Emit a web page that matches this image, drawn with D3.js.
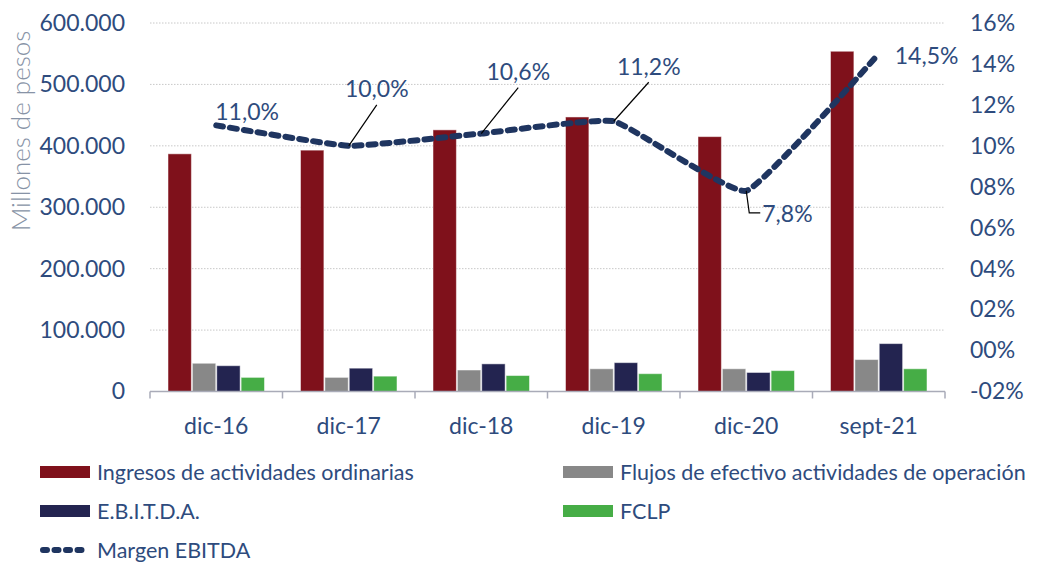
<!DOCTYPE html>
<html>
<head>
<meta charset="utf-8">
<script src="https://cdn.jsdelivr.net/npm/d3@7"></script>
<style>
  body { margin: 0; background: #fff; }
  svg text { font-family: Lato, "Open Sans", sans-serif; }
</style>
</head>
<body>
<div id="chart"></div>
<script>
// data
const categories = ["dic-16", "dic-17", "dic-18", "dic-19", "dic-20", "sept-21"];
const seriesNames = ["Ingresos de actividades ordinarias", "Flujos de efectivo actividades de operación", "E.B.I.T.D.A.", "FCLP"];
const ingresos = [387000, 393000, 426000, 447000, 415000, 554000];
const flujos   = [46000, 23000, 35000, 37000, 37000, 52000];
const ebitda   = [42000, 38000, 45000, 47000, 31000, 78000];
const fclp     = [23000, 25000, 26000, 29000, 34000, 37000];
const margen   = [11.0, 10.0, 10.6, 11.2, 7.8, 14.5];
const lineName = "Margen EBITDA";
const leftTicks = [0, 100000, 200000, 300000, 400000, 500000, 600000];
const rightTicks = [-2, 0, 2, 4, 6, 8, 10, 12, 14, 16];

const colors = ["#7f111b", "#888888", "#232450", "#46ad46"];
const lineColor = "#1f3560";
const textColor = "#2e4b7d";

const W = 1037, H = 562;
const svg = d3.select("#chart").append("svg")
    .attr("width", W).attr("height", H);

const x = d3.scaleBand().domain(categories).range([150, 945]);
const x1 = d3.scaleBand().domain(seriesNames)
    .range([18, x.bandwidth() - 18]).paddingInner(0.04);
const yL = d3.scaleLinear().domain([0, 600000]).range([391.5, 23]);
const yR = d3.scaleLinear().domain([-2, 16]).range([391.5, 23]);

const fmtL = d => d === 0 ? "0" : d3.format(",")(d).replace(/,/g, ".");
const fmtR = d => (d < 0 ? "-" : "") + String(Math.abs(d)).padStart(2, "0") + "%";

// gridlines
svg.append("g").selectAll("line")
  .data(leftTicks.filter(d => d > 0))
  .join("line")
    .attr("x1", 150).attr("x2", 945)
    .attr("y1", d => yL(d)).attr("y2", d => yL(d))
    .attr("stroke", "#c8c8c8").attr("stroke-width", 1)
    .attr("stroke-dasharray", "1.5,1.5");

// left axis
const gl = svg.append("g")
    .attr("transform", "translate(150,0)")
    .call(d3.axisLeft(yL).tickValues(leftTicks).tickFormat(fmtL).tickSize(0).tickPadding(25));
gl.select(".domain").remove();
gl.selectAll("text").attr("fill", textColor).style("font-size", "23px");

// right axis
const gr = svg.append("g")
    .attr("transform", "translate(945,0)")
    .call(d3.axisRight(yR).tickValues(rightTicks).tickFormat(fmtR).tickSize(0).tickPadding(25));
gr.select(".domain").remove();
gr.selectAll("text").attr("fill", textColor).style("font-size", "23px");

// axis title
svg.append("text")
    .attr("transform", "translate(30,131) rotate(-90)")
    .attr("text-anchor", "middle")
    .attr("fill", "#8793a6")
    .style("font-size", "26px").style("font-weight", 300)
    .text("Millones de pesos");

// bars
const rows = categories.map((c, i) => ({
  cat: c,
  vals: [ingresos[i], flujos[i], ebitda[i], fclp[i]]
}));
const groups = svg.append("g").selectAll("g")
  .data(rows)
  .join("g")
    .attr("transform", d => `translate(${x(d.cat)},0)`);
groups.selectAll("rect")
  .data(d => d.vals.map((v, j) => ({ s: seriesNames[j], v, j })))
  .join("rect")
    .attr("x", d => x1(d.s))
    .attr("width", x1.bandwidth())
    .attr("y", d => yL(d.v))
    .attr("height", d => yL(0) - yL(d.v))
    .attr("fill", d => colors[d.j])
    .attr("stroke", "#ffffff").attr("stroke-opacity", 0.5).attr("stroke-width", 1);

// bottom axis
const gx = svg.append("g")
    .attr("transform", `translate(0,${yL(0)})`);
gx.append("line")
    .attr("x1", 150).attr("x2", 945)
    .attr("stroke", "#a9abb8").attr("stroke-width", 1.5);
gx.selectAll(".tk")
  .data(categories.concat(["end"]))
  .join("line")
    .attr("class", "tk")
    .attr("x1", (d, i) => 150 + i * x.step())
    .attr("x2", (d, i) => 150 + i * x.step())
    .attr("y1", 0).attr("y2", 7)
    .attr("stroke", "#a9abb8").attr("stroke-width", 1.5);
gx.selectAll(".cl")
  .data(categories)
  .join("text")
    .attr("class", "cl")
    .attr("x", d => x(d) + x.bandwidth() / 2)
    .attr("y", 42)
    .attr("text-anchor", "middle")
    .attr("fill", textColor)
    .style("font-size", "23px")
    .text(d => d);

// line
const pts = categories.map((c, i) => [x(c) + x.bandwidth() / 2, yR(margen[i])]);
svg.append("path")
    .attr("d", d3.line().curve(d3.curveCardinal.tension(0.65))(pts))
    .attr("fill", "none")
    .attr("stroke", lineColor)
    .attr("stroke-width", 6)
    .attr("stroke-linecap", "round")
    .attr("stroke-dasharray", "7,7");

// data labels: offset of the label from its point, and leader lines
const fmtPct = v => v.toFixed(1).replace(".", ",") + "%";
const labelPos = [
  { dx: -1, dy: -5, anchor: "start", leader: null },
  { dx: 28, dy: -49, anchor: "middle", leader: [[0, 0], [28, -41]] },
  { dx: 37, dy: -54, anchor: "middle", leader: [[0, 0], [37, -46]] },
  { dx: 35, dy: -46, anchor: "middle", leader: [[0, 0], [35, -39]] },
  { dx: 16, dy: 31, anchor: "start", leader: [[0, 0], [3, 22], [14, 22]] },
  { dx: 16, dy: 10, anchor: "start", leader: null }
];
const lbl = svg.append("g").selectAll("g")
  .data(margen.map((v, i) => ({ v, i, p: labelPos[i] })))
  .join("g")
    .attr("transform", d => `translate(${pts[d.i][0]},${pts[d.i][1]})`);
lbl.filter(d => d.p.leader)
  .append("path")
    .attr("d", d => d3.line()(d.p.leader))
    .attr("fill", "none").attr("stroke", "#000").attr("stroke-width", 1.2);
lbl.append("text")
    .attr("x", d => d.p.dx)
    .attr("y", d => d.p.dy)
    .attr("text-anchor", d => d.p.anchor)
    .attr("fill", textColor)
    .style("font-size", "23px")
    .text(d => fmtPct(d.v));

// legend
const legendItems = [
  { name: seriesNames[0], type: "rect", color: colors[0], col: 0, row: 0 },
  { name: seriesNames[1], type: "rect", color: colors[1], col: 1, row: 0 },
  { name: seriesNames[2], type: "rect", color: colors[2], col: 0, row: 1 },
  { name: seriesNames[3], type: "rect", color: colors[3], col: 1, row: 1 },
  { name: lineName, type: "line", color: lineColor, col: 0, row: 2 }
];
const lg = svg.append("g").selectAll("g")
  .data(legendItems)
  .join("g")
    .attr("transform", d => `translate(${d.col ? 563 : 40},${472 + d.row * 39})`);
lg.filter(d => d.type === "rect").append("rect")
    .attr("x", 0).attr("y", -6).attr("width", 50).attr("height", 12)
    .attr("fill", d => d.color);
lg.filter(d => d.type === "line").append("line")
    .attr("x1", 3).attr("x2", 48).attr("y1", 0).attr("y2", 0)
    .attr("stroke", d => d.color).attr("stroke-width", 6)
    .attr("stroke-linecap", "round").attr("stroke-dasharray", "4,7.5");
lg.append("text")
    .attr("x", 57).attr("y", 8)
    .attr("fill", textColor)
    .style("font-size", "21.5px")
    .text(d => d.name);
</script>
</body>
</html>
